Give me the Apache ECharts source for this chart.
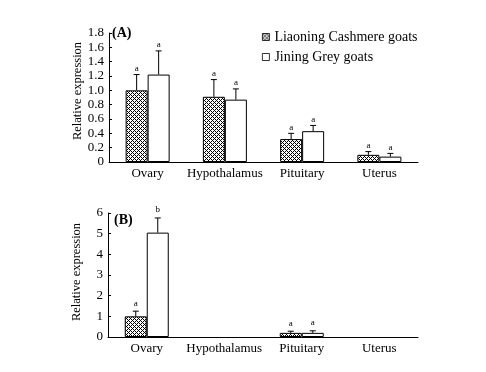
<!DOCTYPE html>
<html>
<head>
<meta charset="utf-8">
<script src="https://cdn.jsdelivr.net/npm/echarts@6/dist/echarts.min.js"></script>
<style>html,body{margin:0;padding:0;background:#fff}#c{width:486px;height:372px}</style>
</head>
<body>
<div id="c"></div>
<script>
// ---- data ----
var categories = ['Ovary', 'Hypothalamus', 'Pituitary', 'Uterus'];
var seriesNames = ['Liaoning Cashmere goats', 'Jining Grey goats'];
// Panel A
var aLC = [1.0, 0.91, 0.32, 0.10];
var aLCUpper = [1.22, 1.15, 0.40, 0.145];
var aLCSig = ['a', 'a', 'a', 'a'];
var aJG = [1.22, 0.87, 0.43, 0.075];
var aJGUpper = [1.55, 1.02, 0.51, 0.12];
var aJGSig = ['a', 'a', 'a', 'a'];
// Panel B
var bLC = [1.0, null, 0.20, null];
var bLCUpper = [1.25, null, 0.28, null];
var bLCSig = ['a', null, 'a', null];
var bJG = [5.05, null, 0.20, null];
var bJGUpper = [5.76, null, 0.30, null];
var bJGSig = ['b', null, 'a', null];
var aTicks = [0, 0.2, 0.4, 0.6, 0.8, 1.0, 1.2, 1.4, 1.6, 1.8];
var bTicks = [0, 1, 2, 3, 4, 5, 6];

// ---- hatch pattern ----
var pc = document.createElement('canvas');
pc.width = 4; pc.height = 4;
var pctx = pc.getContext('2d');
pctx.fillStyle = '#fff'; pctx.fillRect(0, 0, 4, 4);
pctx.fillStyle = '#000';
for (var x = 0; x < 4; x++) for (var y = 0; y < 4; y++) {
  if ((x + y) % 4 === 0 || ((x - y) % 4 + 4) % 4 === 0) pctx.fillRect(x, y, 1, 1);
}
var hatch = { image: pc, repeat: 'repeat' };

var FONT = '"Liberation Serif", "DejaVu Serif", serif';
var BARW = 22;

function errSeries(xi, yi, means, uppers, sigs, offset, gap) {
  var data = categories.map(function (c, i) { return [i, means[i], uppers[i]]; });
  return {
    type: 'custom', xAxisIndex: xi, yAxisIndex: yi, silent: true, clip: false, z: 5,
    data: data,
    encode: { x: 0, y: [1, 2] },
    renderItem: function (params, api) {
      var i = params.dataIndex;
      if (means[i] == null) return null;
      var pm = api.coord([i, means[i]]);
      var pu = api.coord([i, uppers[i]]);
      var x = pm[0] + offset;
      var ls = { stroke: '#000', lineWidth: 1 };
      return {
        type: 'group',
        children: [
          { type: 'line', shape: { x1: x, y1: pm[1], x2: x, y2: pu[1] }, style: ls },
          { type: 'line', shape: { x1: x - 3, y1: pu[1], x2: x + 3, y2: pu[1] }, style: ls },
          { type: 'text', style: { text: sigs[i], x: x, y: pu[1] - gap, align: 'center', verticalAlign: 'middle',
              font: '9px ' + FONT, fill: '#000' } }
        ]
      };
    }
  };
}

function barSeries(name, xi, yi, values, isHatch) {
  return {
    name: name, type: 'bar', xAxisIndex: xi, yAxisIndex: yi,
    data: values, barWidth: BARW, barGap: '0%',
    itemStyle: { color: isHatch ? hatch : '#fff', borderColor: '#000', borderWidth: 1 },
    emphasis: { disabled: true }
  };
}

function xAxis(gi) {
  return {
    type: 'category', gridIndex: gi, data: categories, boundaryGap: true,
    axisLine: { lineStyle: { color: '#000', width: 1 } },
    axisTick: { inside: true, length: 3, lineStyle: { color: '#000' } },
    axisLabel: { color: '#000', fontFamily: FONT, fontSize: 13, margin: 5, interval: 0 },
    splitLine: { show: false }
  };
}

function yAxis(gi, max, interval, fmt) {
  return {
    type: 'value', gridIndex: gi, min: 0, max: max, interval: interval,
    axisLine: { show: true, lineStyle: { color: '#000', width: 1 } },
    axisTick: { show: true, inside: true, length: 3, lineStyle: { color: '#000' } },
    axisLabel: { color: '#000', fontFamily: FONT, fontSize: 13, margin: 5, formatter: fmt },
    splitLine: { show: false }
  };
}

var chart = echarts.init(document.getElementById('c'), null, { renderer: 'canvas' });
chart.setOption({
  animation: false,
  backgroundColor: '#fff',
  grid: [
    { left: 109, right: 68, top: 33, height: 129 },
    { left: 108, right: 68, top: 213, height: 124 }
  ],
  xAxis: [xAxis(0), xAxis(1)],
  yAxis: [
    yAxis(0, aTicks[aTicks.length - 1], aTicks[1] - aTicks[0], function (v) { return v === 0 ? '0' : v.toFixed(1); }),
    yAxis(1, bTicks[bTicks.length - 1], bTicks[1] - bTicks[0], function (v) { return String(v); })
  ],
  legend: {
    data: seriesNames, orient: 'vertical', left: 262, top: 30, itemGap: 6, padding: 0,
    itemWidth: 7, itemHeight: 7, icon: 'rect',
    itemStyle: { borderColor: '#000', borderWidth: 0.8 },
    textStyle: { fontFamily: FONT, fontSize: 14, color: '#000' },
    selectedMode: false
  },
  graphic: [
    { type: 'text', left: 112, top: 26, style: { text: '(A)', font: 'bold 14px ' + FONT, fill: '#000' } },
    { type: 'text', left: 114, top: 213, style: { text: '(B)', font: 'bold 14px ' + FONT, fill: '#000' } },
    { type: 'text', x: 78, y: 91, rotation: Math.PI / 2, style: { text: 'Relative expression', font: '12.5px ' + FONT, fill: '#000', align: 'center', verticalAlign: 'middle' } },
    { type: 'text', x: 77, y: 272, rotation: Math.PI / 2, style: { text: 'Relative expression', font: '12.5px ' + FONT, fill: '#000', align: 'center', verticalAlign: 'middle' } }
  ],
  series: [
    barSeries(seriesNames[0], 0, 0, aLC, true),
    barSeries(seriesNames[1], 0, 0, aJG, false),
    barSeries(seriesNames[0], 1, 1, bLC, true),
    barSeries(seriesNames[1], 1, 1, bJG, false),
    errSeries(0, 0, aLC, aLCUpper, aLCSig, -BARW / 2, 6),
    errSeries(0, 0, aJG, aJGUpper, aJGSig, BARW / 2, 6),
    errSeries(1, 1, bLC, bLCUpper, bLCSig, -BARW / 2, 8),
    errSeries(1, 1, bJG, bJGUpper, bJGSig, BARW / 2, 8)
  ]
});
</script>
</body>
</html>
